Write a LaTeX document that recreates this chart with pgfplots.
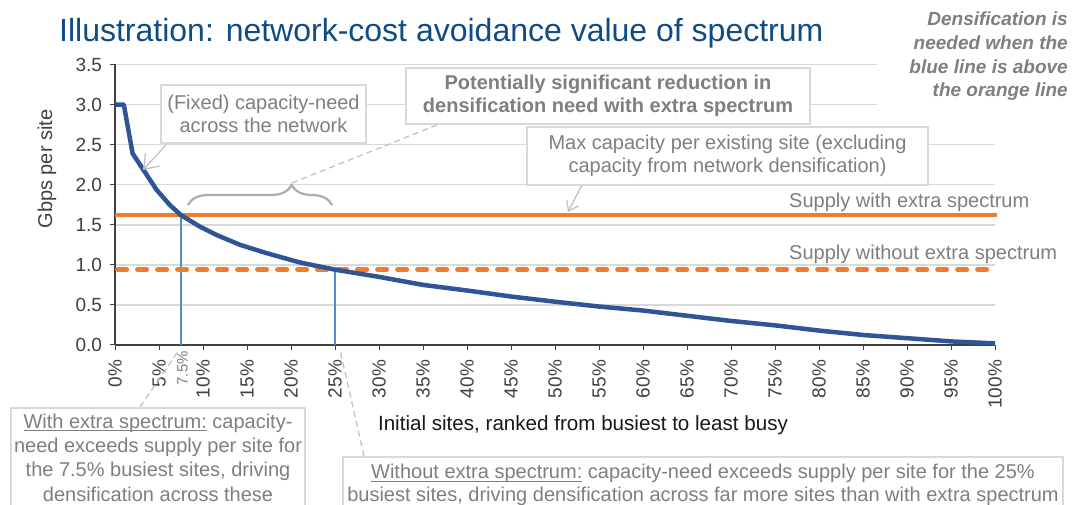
\documentclass[border=0pt]{standalone}
\usepackage{fontspec}
\setmainfont{Liberation Sans}
\usepackage{pgfplots}
\pgfplotsset{compat=1.18}
\usetikzlibrary{arrows.meta,decorations.pathreplacing}

\definecolor{titleblue}{RGB}{16,76,132}
\definecolor{txtgray}{RGB}{127,127,127}
\definecolor{boxgray}{RGB}{217,217,217}
\definecolor{gridgray}{RGB}{217,217,217}
\definecolor{curveblue}{RGB}{47,85,151}
\definecolor{orng}{RGB}{237,125,49}
\definecolor{vblue}{RGB}{84,141,196}
\definecolor{axisgray}{RGB}{64,64,64}
\definecolor{bracegray}{RGB}{175,171,171}
\definecolor{arrgray}{RGB}{191,191,191}

\newcommand{\ul}[1]{\setbox0\hbox{#1}\rlap{\rule[-3pt]{\wd0}{1pt}}\box0\relax}

\begin{document}
\begin{tikzpicture}[x=1pt,y=1pt]
\useasboundingbox (0,0) rectangle (1076,505);
\fill[white] (0,0) rectangle (1076,505);

\begin{axis}[
  at={(115pt,160pt)}, anchor=south west,
  scale only axis, width=880pt, height=280.5pt,
  xmin=0, xmax=100, ymin=0, ymax=3.5,
  axis lines=left,
  axis line style={-, draw=axisgray, line width=1.2pt},
  tick align=outside,
  major tick length=5.5pt,
  tick style={draw=axisgray, line width=1pt},
  xtick={0,5,10,15,20,25,30,35,40,45,50,55,60,65,70,75,80,85,90,95,100},
  ytick={0,0.5,1,1.5,2,2.5,3,3.5},
  ymajorgrids,
  major grid style={draw=gridgray, line width=1.5pt},
  xticklabel={\pgfmathprintnumber{\tick}\%},
  xticklabel style={rotate=90, anchor=east, font=\fontsize{19}{21}\selectfont, text=axisgray},
  xticklabel shift=6pt,
  yticklabel shift=4pt,
  yticklabel style={font=\fontsize{19}{21}\selectfont, text=axisgray, /pgf/number format/.cd, fixed, fixed zerofill, precision=1},
  /pgf/number format/assume math mode=true,
  clip=false,
]
\addplot[vblue, line width=1.5pt] coordinates {(7.5,0) (7.5,1.62)};
\addplot[vblue, line width=1.5pt] coordinates {(25,0) (25,0.94)};
\addplot[orng, line width=4pt] coordinates {(0,1.62) (100.2,1.62)};
\addplot[orng, line width=5pt, dash pattern=on 9pt off 11pt, line cap=round] coordinates {(0.3,0.94) (100.2,0.94)};
\addplot[curveblue, line width=4.5pt, line join=round] coordinates {
(0,3.0) (1,3.0) (2,2.39) (3.2,2.19) (4.7,1.94) (6.2,1.75) (7.5,1.62)
(9.6,1.48) (11.5,1.375) (14.2,1.25) (17.2,1.147) (21,1.03) (25,0.94)
(30,0.85) (35,0.75) (40,0.68) (45,0.605) (50,0.54) (55,0.48) (60,0.43)
(65,0.365) (70,0.30) (75,0.245) (80,0.18) (85,0.125) (90,0.085) (95,0.045) (100,0.02)};
\end{axis}

% extra tick label 7.5%
\node[rotate=90, anchor=east, font=\fontsize{15}{16}\selectfont, text=txtgray, inner sep=0] at (182.5,154) {7.5\%};

% title
\node[anchor=base west, inner sep=0, text=titleblue, font=\fontsize{32}{36}\selectfont] at (59,463) {Illustration: network-cost avoidance value of spectrum};

% italic note
\fill[white] (877,395) rectangle (1076,505);
\begin{scope}[every node/.style={anchor=base east, inner sep=0, text=txtgray, font=\fontsize{19}{22}\selectfont\bfseries\itshape}]
\node at (1068,479.5) {Densification is};
\node at (1068,455.5) {needed when the};
\node at (1068,431.5) {blue line is above};
\node at (1068,408.5) {the orange line};
\end{scope}

% axis labels
\node[rotate=90, text=axisgray, font=\fontsize{20}{22}\selectfont, inner sep=0] at (47,336) {Gbps per site};
\node[text=black!90, font=\fontsize{20.6}{22}\selectfont, inner sep=0] at (583,80) {Initial sites, ranked from busiest to least busy};

% box 1
\node[draw=boxgray, line width=2pt, fill=white, minimum width=205pt, minimum height=58pt, inner sep=0, align=center, text=txtgray, font=\fontsize{20}{23}\selectfont] at (263.5,391) {(Fixed) capacity-need\\across the network};
\draw[arrgray, line width=1.2pt, -{Straight Barb[length=13pt,width=19pt]}] (166,360) -- (143,335);

% box 2
\node[draw=boxgray, line width=2pt, fill=white, minimum width=404pt, minimum height=56pt, inner sep=0, align=center, text=txtgray, font=\fontsize{20}{23}\selectfont\bfseries] at (608,409) {Potentially significant reduction in\\densification need with extra spectrum};
\draw[arrgray, line width=1.2pt, dash pattern=on 6pt off 4pt] (437,380) -- (292,322);
\draw[bracegray, line width=2.2pt, decorate, decoration={brace, amplitude=20pt, aspect=0.72}] (188,300) -- (332,300);

% box 3
\node[draw=boxgray, line width=2pt, fill=white, minimum width=401pt, minimum height=58pt, inner sep=0, align=center, text=txtgray, font=\fontsize{20}{23}\selectfont] at (727.5,349) {Max capacity per existing site (excluding\\capacity from network densification)};
\draw[arrgray, line width=1.2pt, -{Straight Barb[length=9pt,width=13pt]}] (582,320) -- (568,293);

% supply labels
\node[anchor=base west, inner sep=0, text=txtgray, font=\fontsize{20}{22}\selectfont] at (789,297) {Supply with extra spectrum};
\node[anchor=base west, inner sep=0, text=txtgray, font=\fontsize{20}{22}\selectfont] at (789,245) {Supply without extra spectrum};

% box 4
\draw[arrgray, line width=1.2pt, dash pattern=on 6pt off 4pt] (140,98) -- (179,155);
\draw[boxgray, line width=2pt, fill=white] (11,97) rectangle (305,-20);
\node[align=center, text=txtgray, font=\fontsize{20}{24.3}\selectfont, inner sep=0] at (158,47.5) {\ul{With extra spectrum:} capacity-\\need exceeds supply per site for\\the 7.5\% busiest sites, driving\\densification across these};

% box 5
\draw[arrgray, line width=1.2pt, dash pattern=on 6pt off 4pt] (364,49) -- (340,155);
\draw[boxgray, line width=2pt, fill=white] (343,48) rectangle (1063,-20);
\node[align=center, text=txtgray, font=\fontsize{20}{22.5}\selectfont, inner sep=0] at (703,20) {\ul{Without extra spectrum:} capacity-need exceeds supply per site for the 25\%\\busiest sites, driving densification across far more sites than with extra spectrum};
\end{tikzpicture}
\end{document}
